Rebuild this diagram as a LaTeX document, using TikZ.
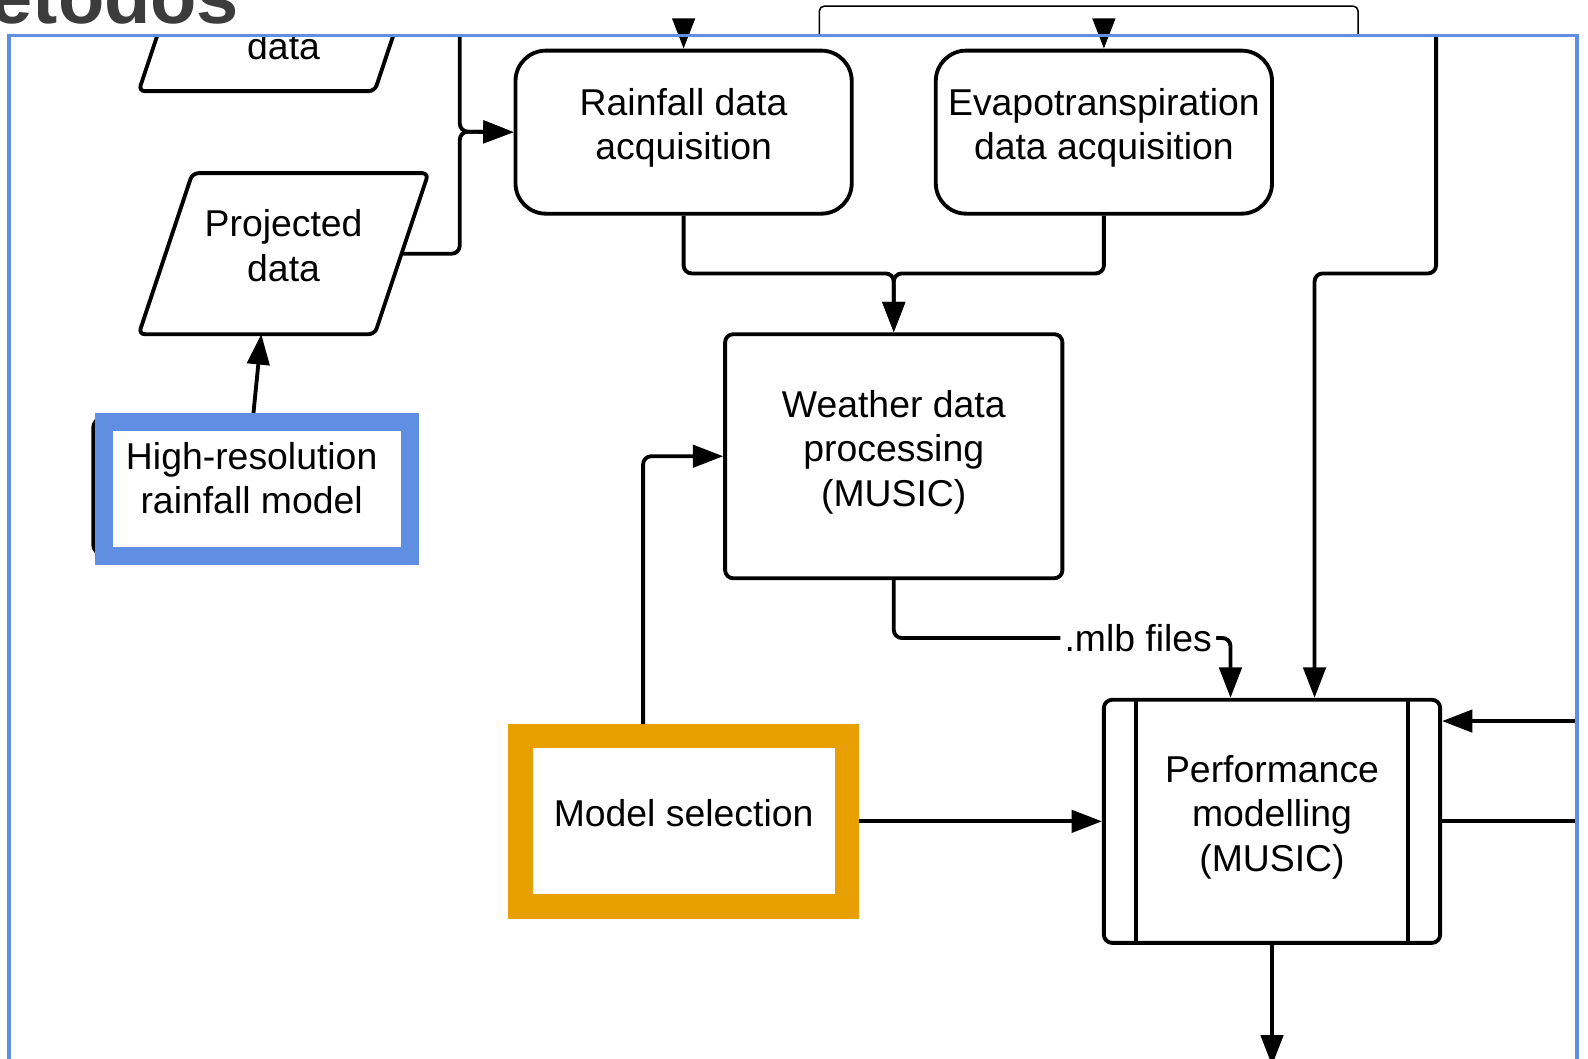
\documentclass[tikz,border=0pt]{standalone}
\usepackage{fontspec}
\setmainfont{Liberation Sans}
\usetikzlibrary{arrows.meta,positioning}
\definecolor{framebl}{RGB}{96,142,226}
\definecolor{hiorange}{RGB}{232,160,0}
\definecolor{titlegr}{RGB}{60,60,60}
% slanted outline round a data node
\newcommand{\paraline}[1]{\draw[rounded corners=0.6mm] ([xshift=5.3mm]#1.north west) -- (#1.north east)
  -- ([xshift=-5.3mm]#1.south east) -- (#1.south west) -- cycle;}

\begin{document}
\begin{tikzpicture}[x=0.1mm,y=-0.1mm,line width=0.38mm,
    >={Triangle[length=3mm,width=2.2mm]},
    every node/.style={font=\fontsize{10.5}{12.5}\selectfont,align=center},
    boxtext/.style={text depth=4.5pt},
    roundbox/.style={draw,boxtext,rounded corners=3mm,minimum width=33.2mm,minimum height=16.1mm},
    procbox/.style={draw,boxtext,rounded corners=0.8mm,minimum width=33.2mm,minimum height=24mm},
    databox/.style={boxtext,outer sep=0pt,minimum width=28.6mm,minimum height=15.9mm},
    link/.style={rounded corners=0.8mm}]

  \useasboundingbox (0,0) rectangle (1568,1045);

  \node[font=\fontsize{21.3}{25}\selectfont\bfseries,text=titlegr,anchor=base east,inner sep=0]
    (title) at (238,23.5) {etodos};
  \draw[line width=0.15mm,rounded corners=0.5mm] (809,35) |- (1341,6) -- (1341,35);

  \node[roundbox]  (rain)                                     at (675,130.5) {Rainfall data\\acquisition};
  \node[roundbox]  (evap) [right of=rain,node distance=41.5mm]                {Evapotranspiration\\data acquisition};
  \node[procbox,minimum width=33.3mm,minimum height=24.1mm] (wthr) at (882.5,450.5) {Weather data\\processing\\(MUSIC)};
  \node[procbox]   (perf)                                     at (1256,811)  {Performance\\modelling\\(MUSIC)};
  \node[databox]   (proj)                                     at (280,250.5) {Projected\\data};
  \node[draw,boxtext,rounded corners=1mm,minimum width=31.3mm,minimum height=13.5mm]
                   (hires)                                    at (248.5,480) {High-resolution\\rainfall model};
  \node[draw=hiorange,boxtext,line width=2.4mm,minimum width=32.2mm,minimum height=16.8mm]
                   (modsel)                                   at (675,811)   {Model selection};
  \paraline{proj}

  \draw ([xshift=3.4mm]perf.north west) -- ([xshift=3.4mm]perf.south west);
  \draw ([xshift=-3.4mm]perf.north east) -- ([xshift=-3.4mm]perf.south east);

  \coordinate (rainin)   at (675,35);
  \coordinate (evapin)   at (1090,35);
  \coordinate (sidein)   at (1418,35);
  \coordinate (backin)   at (1557,712);
  \coordinate (backout)  at (1557,811);
  \coordinate (downout)  at (1256,1052);
  \coordinate (splitrow) at (0,270);
  \coordinate (mlbrow)   at (0,630);
  \coordinate (mlbin)    at ([xshift=-4.1mm]perf.north);
  \coordinate (sidedrop) at ([xshift=4.2mm]perf.north);

  % part above the frame is cut away
  \begin{scope}
    \clip (9,35) rectangle (1557,1045);
    \node[databox] (hist) at (280,10.5) {};
    \paraline{hist}
    \node (histtxt) at (280,46) {data};
    \draw[link,->] ([xshift=-2.65mm]hist.east) -| (454,130) -- (rain.west);
  \end{scope}

  \draw[link,->] ([xshift=-2.65mm]proj.east) -| (454,130) -- (rain.west);
  \draw[->] (rainin) -- (rain.north);
  \draw[->] (evapin) -- (evap.north);
  \draw[link,->] (rain.south) |- (wthr.north |- splitrow) -- (wthr.north);
  \draw[link,->] (evap.south) |- (wthr.north |- splitrow) -- (wthr.north);
  \draw[link,->] ([xshift=-4mm]modsel.north) |- (wthr.west);
  \draw[->] (modsel.east) -- (perf.west);
  \draw[link,->] (wthr.south) |- node[pos=0.863,fill=white,inner sep=0.4mm] (mlb) {.mlb files}
    (mlbin |- mlbrow) -- (mlbin);
  \draw[link,->] (sidein) |- (sidedrop |- splitrow) -- (sidedrop);
  \draw[->] (backin) -- ([yshift=9.9mm]perf.east);
  \draw (perf.east) -- (backout);
  \draw[->] (perf.south) -- (downout);
  \draw[->] ([xshift=0.15mm]hires.north) -- ([xshift=-2.2mm]proj.south);

  % highlight and frame
  \draw[framebl,line width=1.8mm] (103,417) rectangle (405,549);
  \draw[framebl,line width=0.38mm] (9,1060) |- (1557,35) -- (1557,1060);
\end{tikzpicture}
\end{document}
